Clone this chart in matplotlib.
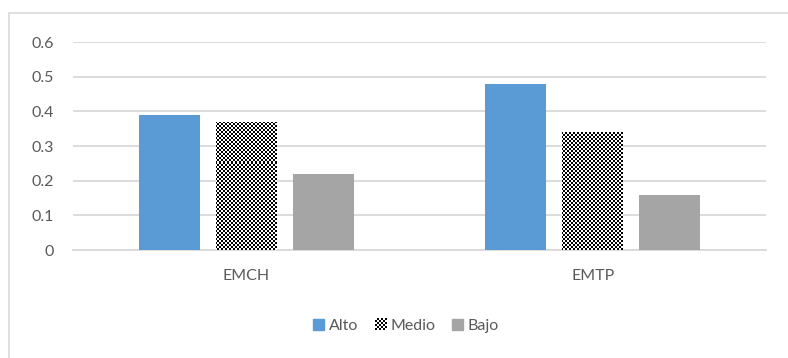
import numpy as np
import matplotlib
matplotlib.use('Agg')
import matplotlib.pyplot as plt
from matplotlib.colors import ListedColormap
from matplotlib.patches import Patch, Rectangle
from matplotlib.legend_handler import HandlerBase
from matplotlib.image import BboxImage
from matplotlib.transforms import Bbox, TransformedBbox

categorias = ['EMCH', 'EMTP']
series = ['Alto', 'Medio', 'Bajo']
alto = [0.39, 0.48]
medio = [0.37, 0.34]
bajo = [0.22, 0.16]
y_ticks = [0, 0.1, 0.2, 0.3, 0.4, 0.5, 0.6]
y_labels = ['0', '0.1', '0.2', '0.3', '0.4', '0.5', '0.6']

AZUL = '#5b9bd5'
GRIS = '#a5a5a5'
TEXTO = '#595959'
GRID = '#d9d9d9'

plt.rcParams['font.family'] = ['Lato', 'DejaVu Sans']

W, H, DPI = 788, 358, 100
fig = plt.figure(figsize=(W / DPI, H / DPI), dpi=DPI)

# area do grafico em pixels
ax_l, ax_r, ax_t, ax_b = 73, 766, 42, 250
ax = fig.add_axes([ax_l / W, (H - ax_b) / H, (ax_r - ax_l) / W, (ax_b - ax_t) / H])

# moldura externa
fig.patches.append(Rectangle((8.5 / W, -0.1), 1.2, (H - 12.5) / H + 0.1,
                             transform=fig.transFigure, fill=False,
                             edgecolor=GRID, linewidth=1.2))


def tabuleiro(h, w, cel=2):
    i, j = np.indices((h, w))
    return ((i // cel + j // cel) % 2).astype(float)


xpos = np.arange(len(categorias))
largura = 0.176
passo = 0.222

ax.bar(xpos - passo, alto, largura, color=AZUL, zorder=3)
barras_medio = ax.bar(xpos, medio, largura, color='white', zorder=3)
ax.bar(xpos + passo, bajo, largura, color=GRIS, zorder=3)

ax.set_xlim(-0.5, 1.5)
ax.set_ylim(0, 0.6)

# padrao xadrez da serie Medio
cmap_xadrez = ListedColormap(['white', 'black'])
img_data = tabuleiro(ax_b - ax_t, ax_r - ax_l)
for b in barras_medio:
    im = ax.imshow(img_data, cmap=cmap_xadrez, extent=(-0.5, 1.5, 0, 0.6),
                   aspect='auto', interpolation='nearest', zorder=4, origin='upper')
    im.set_clip_path(b)
ax.set_aspect('auto')

ax.set_yticks(y_ticks)
ax.set_yticklabels(y_labels)
ax.set_xticks(xpos)
ax.set_xticklabels(categorias)
ax.yaxis.grid(True, color=GRID, linewidth=1.3, zorder=0)
ax.set_axisbelow(True)
for s in ['top', 'right', 'left']:
    ax.spines[s].set_visible(False)
ax.spines['bottom'].set_color(GRID)
ax.spines['bottom'].set_linewidth(1.3)
ax.tick_params(axis='y', length=0, pad=14, labelsize=11.5, labelcolor=TEXTO)
ax.tick_params(axis='x', length=0, pad=14, labelsize=11.5, labelcolor=TEXTO)


class HandlerXadrez(HandlerBase):
    def create_artists(self, legend, orig_handle, xdescent, ydescent,
                       width, height, fontsize, trans):
        bb = Bbox.from_bounds(-xdescent, -ydescent, width, height)
        img = BboxImage(TransformedBbox(bb, trans), cmap=cmap_xadrez,
                        interpolation='nearest')
        img.set_data(tabuleiro(12, 12))
        img.set_clim(0, 1)
        return [img]


handles = [Patch(color=AZUL), Patch(color='black'), Patch(color=GRIS)]
leg = fig.legend(handles, series, loc='center', bbox_to_anchor=(406 / W, (H - 326) / H),
                 ncol=3, frameon=False, fontsize=11.5, handlelength=0.7,
                 handleheight=0.7, handletextpad=0.3, columnspacing=1.0,
                 handler_map={handles[1]: HandlerXadrez()})
for t in leg.get_texts():
    t.set_color(TEXTO)

fig.savefig('out.png', dpi=DPI, facecolor='white')
